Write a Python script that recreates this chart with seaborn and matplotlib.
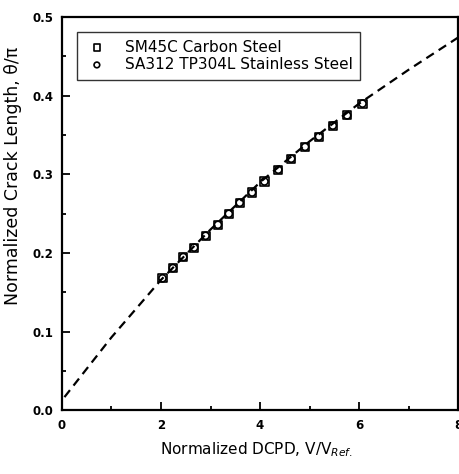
import numpy as np
import pandas as pd
import matplotlib
matplotlib.use('Agg')
import matplotlib.pyplot as plt
import seaborn as sns

dcpd = [2.03, 2.24, 2.45, 2.67, 2.90, 3.15, 3.37, 3.59, 3.84, 4.09,
        4.37, 4.63, 4.91, 5.19, 5.47, 5.76, 6.07]
crack = [0.168, 0.181, 0.195, 0.207, 0.222, 0.236, 0.250, 0.264, 0.277, 0.291,
         0.306, 0.320, 0.335, 0.348, 0.362, 0.375, 0.390]

# fitted curve (dashed)
fit_x = [0.05, 1.0, 2.0, 3.0, 4.0, 5.0, 6.0, 7.0, 8.0]
fit_y = [0.017, 0.093, 0.166, 0.230, 0.290, 0.342, 0.390, 0.433, 0.474]

carbon = pd.DataFrame({'x': dcpd, 'y': crack})
stainless = pd.DataFrame({'x': dcpd, 'y': crack})
fit = pd.DataFrame({'x': fit_x, 'y': fit_y})

sns.set_style('ticks')
plt.rcParams['font.family'] = ['DejaVu Sans']

fig = plt.figure(figsize=(4.59, 4.74), dpi=100)
ax = fig.add_axes([0.135, 0.134, 0.863, 0.830])

sns.lineplot(data=fit, x='x', y='y', ax=ax, color='black', lw=1.6,
             linestyle=(0, (4, 2.6)), sort=False)
sns.scatterplot(data=carbon, x='x', y='y', ax=ax, marker='s', s=34,
                facecolor='none', edgecolor='black', linewidth=1.2,
                label='SM45C Carbon Steel', zorder=3)
sns.scatterplot(data=stainless, x='x', y='y', ax=ax, marker='o', s=26,
                facecolor='none', edgecolor='black', linewidth=1.2,
                label='SA312 TP304L Stainless Steel', zorder=4)

ax.set_xlim(0, 8)
ax.set_ylim(0, 0.5)
ax.set_xticks([0, 2, 4, 6, 8])
ax.set_xticks([1, 3, 5, 7], minor=True)
ax.set_yticks([0.0, 0.1, 0.2, 0.3, 0.4, 0.5])
ax.set_yticks([0.05, 0.15, 0.25, 0.35, 0.45], minor=True)
ax.set_yticklabels(['0.0', '0.1', '0.2', '0.3', '0.4', '0.5'])
ax.tick_params(which='both', direction='in', width=1.3, colors='black')
ax.tick_params(which='major', length=6, labelsize=8.5, pad=6)
ax.tick_params(which='minor', length=3)
for lab in ax.get_xticklabels() + ax.get_yticklabels():
    lab.set_fontweight('bold')
for sp in ax.spines.values():
    sp.set_visible(True)
    sp.set_linewidth(1.6)
    sp.set_color('black')

ax.set_xlabel('Normalized DCPD, V/V$_{Ref.}$', fontsize=11, labelpad=8,
              color='black')
ax.xaxis.set_label_coords(0.49, -0.075)
ax.set_ylabel('Normalized Crack Length, θ/π', fontsize=12.5, color='black')
ax.yaxis.set_label_coords(-0.10, 0.596)

leg = ax.legend(loc='upper left', bbox_to_anchor=(0.038, 0.962), fontsize=11,
                frameon=True, fancybox=False, edgecolor='black',
                handletextpad=1.03, borderpad=0.5, labelspacing=0.15,
                handlelength=1.6, markerscale=0.8, borderaxespad=0)
leg.get_frame().set_linewidth(1.0)
for t in leg.get_texts():
    t.set_color('black')

fig.savefig('out.png', dpi=100)
